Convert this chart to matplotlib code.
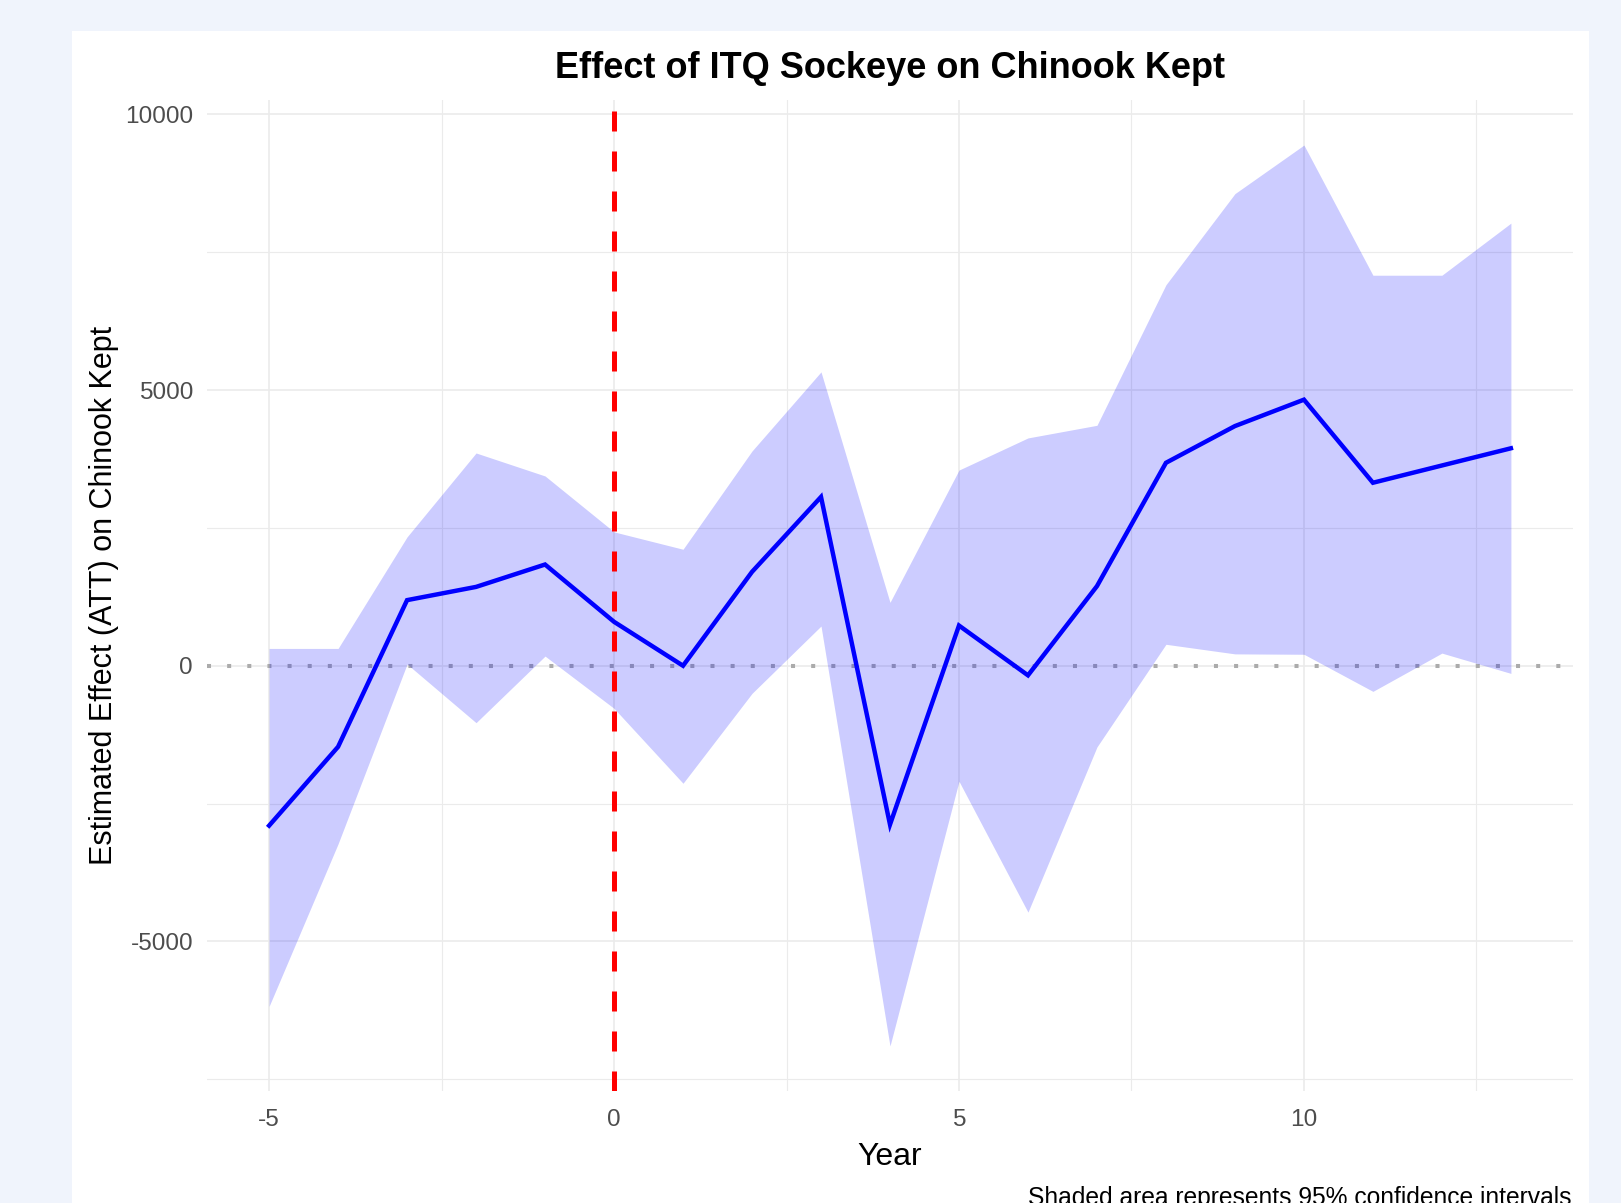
import matplotlib
matplotlib.use("Agg")
import matplotlib.pyplot as plt
from matplotlib.patches import Rectangle
from matplotlib.ticker import MultipleLocator

plt.rcParams["font.family"] = ["Liberation Sans", "DejaVu Sans"]

# event-study estimates
years = [-5, -4, -3, -2, -1, 0, 1, 2, 3, 4, 5, 6, 7, 8, 9, 10, 11, 12, 13]
att = [-2900, -1470, 1190, 1430, 1836, 797, 0, 1703, 3062, -2880,
       729, -174, 1444, 3681, 4347, 4826, 3319, 3632, 3944]
ci_upper = [314, 314, 2337, 3859, 3442, 2428, 2113, 3895, 5330, 1150,
            3549, 4132, 4361, 6910, 8563, 9444, 7083, 7083, 8028]
ci_lower = [-6177, -3230, 30, -1033, 175, -773, -2132, -501, 720, -6896,
            -2095, -4469, -1473, 389, 215, 208, -465, 229, -139]

x_ticks = [-5, 0, 5, 10]
y_ticks = [-5000, 0, 5000, 10000]

W, H = 1621, 1203
fig = plt.figure(figsize=(W / 100, H / 100), dpi=100)
fig.patch.set_facecolor("#F0F4FC")

# white card behind the plot
card = Rectangle((72 / W, 0), (1589 - 72) / W, (H - 31) / H,
                 transform=fig.transFigure, facecolor="white",
                 edgecolor="none", zorder=-5)
fig.add_artist(card)

left, right, top, bottom = 207, 1573, 100, 1091
ax = fig.add_axes([left / W, (H - bottom) / H, (right - left) / W, (bottom - top) / H])
ax.set_zorder(1)
ax.set_facecolor("white")

grid = "#EBEBEB"
ax.set_xticks(x_ticks)
ax.set_yticks(y_ticks)
ax.xaxis.set_minor_locator(MultipleLocator(2.5))
ax.yaxis.set_minor_locator(MultipleLocator(2500))
ax.grid(True, which="major", color=grid, linewidth=1.2, zorder=0)
ax.grid(True, which="minor", color=grid, linewidth=0.8, zorder=0)
ax.set_axisbelow(True)

ax.axhline(0, color="#ABABAB", linewidth=2.9, linestyle=(0, (1, 4)), zorder=1)
ax.fill_between(years, ci_lower, ci_upper, color="blue", alpha=0.2, linewidth=0, zorder=2)
ax.plot(years, att, color="blue", linewidth=3.2, zorder=3, solid_joinstyle="miter")
ax.axvline(0, color="red", linewidth=3.6, linestyle=(0, (4, 4)), zorder=4)

lo, hi = min(ci_lower), max(ci_upper)
pad = 0.05 * (hi - lo)
ax.set_ylim(lo - pad, hi + pad)
xpad = 0.05 * (max(years) - min(years))
ax.set_xlim(min(years) - xpad, max(years) + xpad)

for s in ax.spines.values():
    s.set_visible(False)
ax.tick_params(which="both", length=0, colors="#4D4D4D", labelsize=17.6)
ax.tick_params(axis="x", pad=13)
ax.tick_params(axis="y", pad=10)
ax.set_xticklabels([str(v) for v in x_ticks])
ax.set_yticklabels([str(v) for v in y_ticks])

ax.set_title("Effect of ITQ Sockeye on Chinook Kept", fontsize=26, fontweight="bold",
             pad=16, color="black")
ax.set_xlabel("Year", fontsize=23, labelpad=8)
ax.set_ylabel("Estimated Effect (ATT) on Chinook Kept", fontsize=22, labelpad=4)

fig.text(1572 / W, -2 / H, "Shaded area represents 95% confidence intervals",
         ha="right", va="baseline", fontsize=17.7, color="black")

fig.savefig("out.png", dpi=100, facecolor=fig.get_facecolor())
